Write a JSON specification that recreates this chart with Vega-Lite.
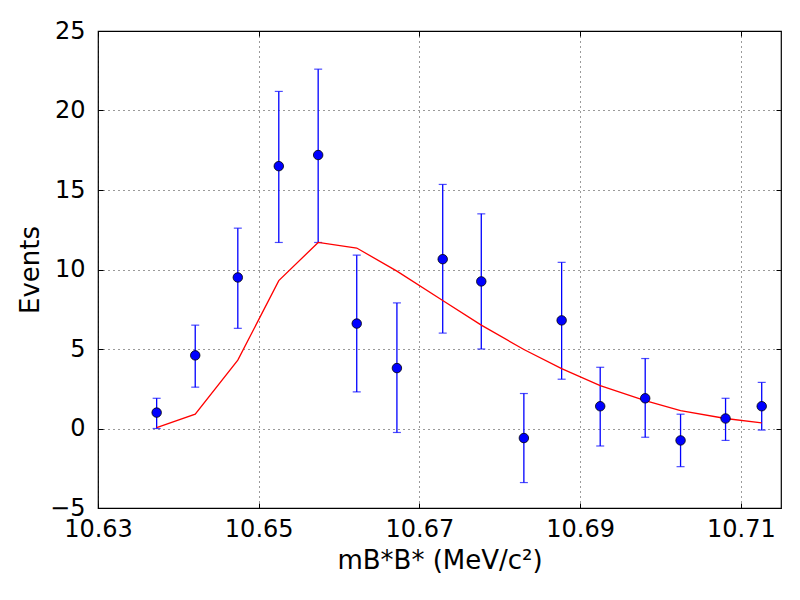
{
  "$schema": "https://vega.github.io/schema/vega-lite/v6.json",
  "autosize": "none",
  "width": 683,
  "height": 477,
  "padding": {"left": 98, "top": 31, "right": 19, "bottom": 92},
  "background": "white",
  "config": {
    "view": {"stroke": "black", "strokeWidth": 1.2},
    "font": "DejaVu Sans",
    "axis": {
      "grid": true,
      "gridColor": "black",
      "gridDash": [1, 4],
      "gridWidth": 0.8,
      "gridOpacity": 1,
      "domain": false,
      "ticks": true,
      "tickSize": -5,
      "tickColor": "black",
      "tickWidth": 1,
      "labelFlush": false,
      "labelOverlap": false,
      "labelFont": "DejaVu Sans",
      "labelFontSize": 24,
      "labelColor": "black",
      "titleFont": "DejaVu Sans",
      "titleFontSize": 26,
      "titleFontWeight": "normal",
      "titleColor": "black"
    }
  },
  "resolve": {"axis": {"x": "independent", "y": "independent"}},
  "data": {
    "values": [
      {"mass": 10.6373, "events": 1.0, "lo": 0.0, "hi": 1.9, "fit": 0.05},
      {"mass": 10.6421, "events": 4.6, "lo": 2.6, "hi": 6.5, "fit": 0.9},
      {"mass": 10.6474, "events": 9.5, "lo": 6.3, "hi": 12.6, "fit": 4.3},
      {"mass": 10.6525, "events": 16.5, "lo": 11.7, "hi": 21.2, "fit": 9.3},
      {"mass": 10.6574, "events": 17.2, "lo": 11.7, "hi": 22.6, "fit": 11.7},
      {"mass": 10.6622, "events": 6.6, "lo": 2.3, "hi": 10.9, "fit": 11.35},
      {"mass": 10.6672, "events": 3.8, "lo": -0.25, "hi": 7.9, "fit": 9.9},
      {"mass": 10.6729, "events": 10.65, "lo": 6.0, "hi": 15.35, "fit": 8.05},
      {"mass": 10.6777, "events": 9.25, "lo": 5.0, "hi": 13.5, "fit": 6.5},
      {"mass": 10.683, "events": -0.6, "lo": -3.4, "hi": 2.2, "fit": 4.97},
      {"mass": 10.6877, "events": 6.8, "lo": 3.1, "hi": 10.45, "fit": 3.77},
      {"mass": 10.6925, "events": 1.4, "lo": -1.1, "hi": 3.85, "fit": 2.7},
      {"mass": 10.6981, "events": 1.9, "lo": -0.55, "hi": 4.4, "fit": 1.76},
      {"mass": 10.7025, "events": -0.75, "lo": -2.4, "hi": 0.9, "fit": 1.13},
      {"mass": 10.7081, "events": 0.63, "lo": -0.75, "hi": 1.9, "fit": 0.63},
      {"mass": 10.7126, "events": 1.4, "lo": -0.1, "hi": 2.9, "fit": 0.35}
    ]
  },
  "layer": [
    {
      "mark": {"type": "rule", "color": "#0000ff", "strokeWidth": 1.3},
      "encoding": {
        "x": {
          "field": "mass",
          "type": "quantitative",
          "scale": {"domain": [10.63, 10.715], "nice": false, "zero": false},
          "axis": {
            "values": [10.63, 10.65, 10.67, 10.69, 10.71],
            "format": ".2f",
            "labelPadding": 14,
            "title": "mB*B*  (MeV/c²)",
            "titlePadding": 6
          }
        },
        "y": {
          "field": "lo",
          "type": "quantitative",
          "scale": {"domain": [-5, 25], "nice": false},
          "axis": {
            "values": [-5, 0, 5, 10, 15, 20, 25],
            "labelPadding": 18,
            "title": "Events",
            "titlePadding": 6
          }
        },
        "y2": {"field": "hi"}
      }
    },
    {
      "mark": {"type": "tick", "orient": "horizontal", "color": "#0000ff", "size": 8, "thickness": 1.2},
      "encoding": {
        "x": {"field": "mass", "type": "quantitative", "axis": null},
        "y": {"field": "lo", "type": "quantitative", "axis": null}
      }
    },
    {
      "mark": {"type": "tick", "orient": "horizontal", "color": "#0000ff", "size": 8, "thickness": 1.2},
      "encoding": {
        "x": {"field": "mass", "type": "quantitative", "axis": null},
        "y": {"field": "hi", "type": "quantitative", "axis": null}
      }
    },
    {
      "mark": {"type": "line", "color": "#ff0000", "strokeWidth": 1.3},
      "encoding": {
        "x": {"field": "mass", "type": "quantitative", "axis": null},
        "y": {"field": "fit", "type": "quantitative", "axis": null}
      }
    },
    {
      "mark": {"type": "circle", "fill": "#0000ff", "fillOpacity": 1, "stroke": "black", "strokeWidth": 0.8, "size": 90},
      "encoding": {
        "x": {
          "field": "mass",
          "type": "quantitative",
          "axis": {
            "orient": "top",
            "values": [10.63, 10.65, 10.67, 10.69, 10.71],
            "labels": false,
            "grid": false,
            "title": null
          }
        },
        "y": {
          "field": "events",
          "type": "quantitative",
          "axis": {
            "orient": "right",
            "values": [-5, 0, 5, 10, 15, 20, 25],
            "labels": false,
            "grid": false,
            "title": null
          }
        }
      }
    }
  ]
}
